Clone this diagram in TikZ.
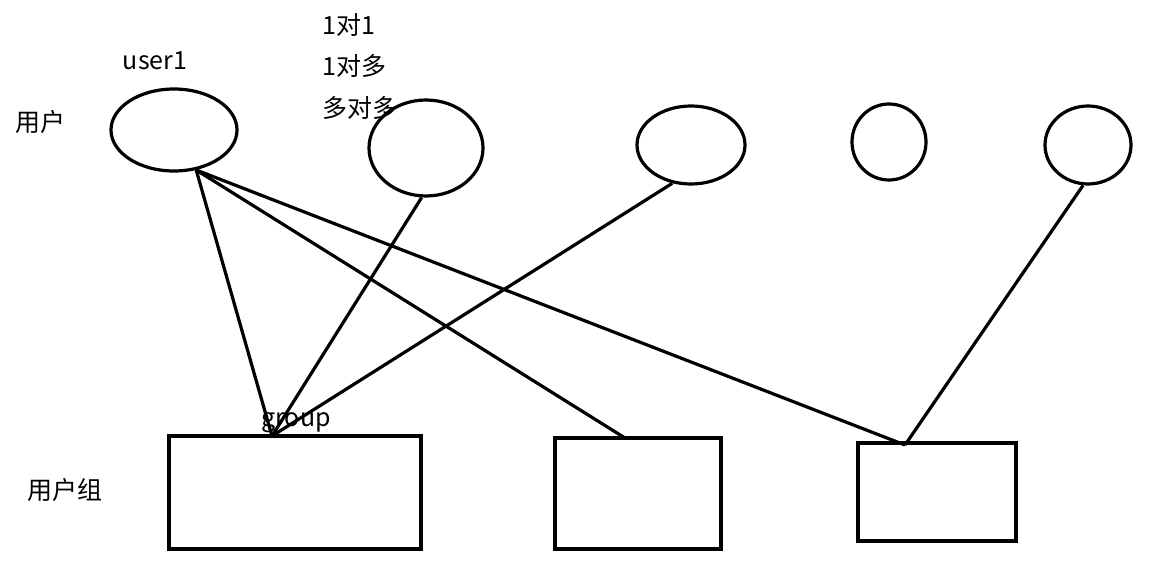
\documentclass[tikz,border=0pt]{standalone}
\usepackage{fontspec}
\setmainfont{Noto Sans CJK SC}
\usetikzlibrary{shapes.geometric}

\tikzset{
  user/.style={draw, ellipse, line width=3.2pt, inner sep=0pt},
  grp/.style={draw, rectangle, line width=3.2pt, inner sep=0pt},
  link/.style={line width=3.2pt},
  lbl/.style={inner sep=0pt, font=\fontsize{25}{29}\selectfont}
}

\begin{document}
\begin{tikzpicture}[x=1pt,y=-1pt]
    \useasboundingbox (0,0) rectangle (1164,561);

    % 用户
    \node[user, minimum width=126pt, minimum height=82pt] (u1) at (174,130) {};
    \node[user, minimum width=114pt, minimum height=96pt] (u2) at (426,148) {};
    \node[user, minimum width=108pt, minimum height=78pt] (u3) at (691,145) {};
    \node[user, minimum width=74pt, minimum height=76pt] (u4) at (889,142) {};
    \node[user, minimum width=86pt, minimum height=78pt] (u5) at (1088,145) {};

    % 用户组
    \node[grp, minimum width=252pt, minimum height=113pt] (g1) at (295,492.5) {};
    \node[grp, minimum width=166pt, minimum height=111pt] (g2) at (638,493.5) {};
    \node[grp, minimum width=158pt, minimum height=98pt] (g3) at (937,492) {};

    % 连线的端点
    \coordinate (g1top) at (272,436);
    \coordinate (g2top) at (625,438);
    \coordinate (g3top) at (905,445);

    % 文字
    \node[lbl] (tuser) at (41,122) {用户};
    \node[lbl] (tgroup) at (65,490) {用户组};
    \node[lbl] (nuser1) at (155,61) {user1};
    \node[lbl] (ngroup) at (296,423) {group};
    \node[lbl, anchor=west] (r1) at (322,25) {1对1};
    \node[lbl, anchor=west] (r2) at (322,66) {1对多};
    \node[lbl, anchor=west] (r3) at (322,108) {多对多};

    % 连线
    \draw[link] (u1.-61) -- (g1top);
    \draw[link] (u1.-61) -- (g2top);
    \draw[link] (u1.-61) -- (g3top);
    \draw[link] (u2.-95) -- (g1top);
    \draw[link] (u3.-116) -- (g1top);
    \draw[link] (u5.-97) -- (g3top);

\end{tikzpicture}
\end{document}
